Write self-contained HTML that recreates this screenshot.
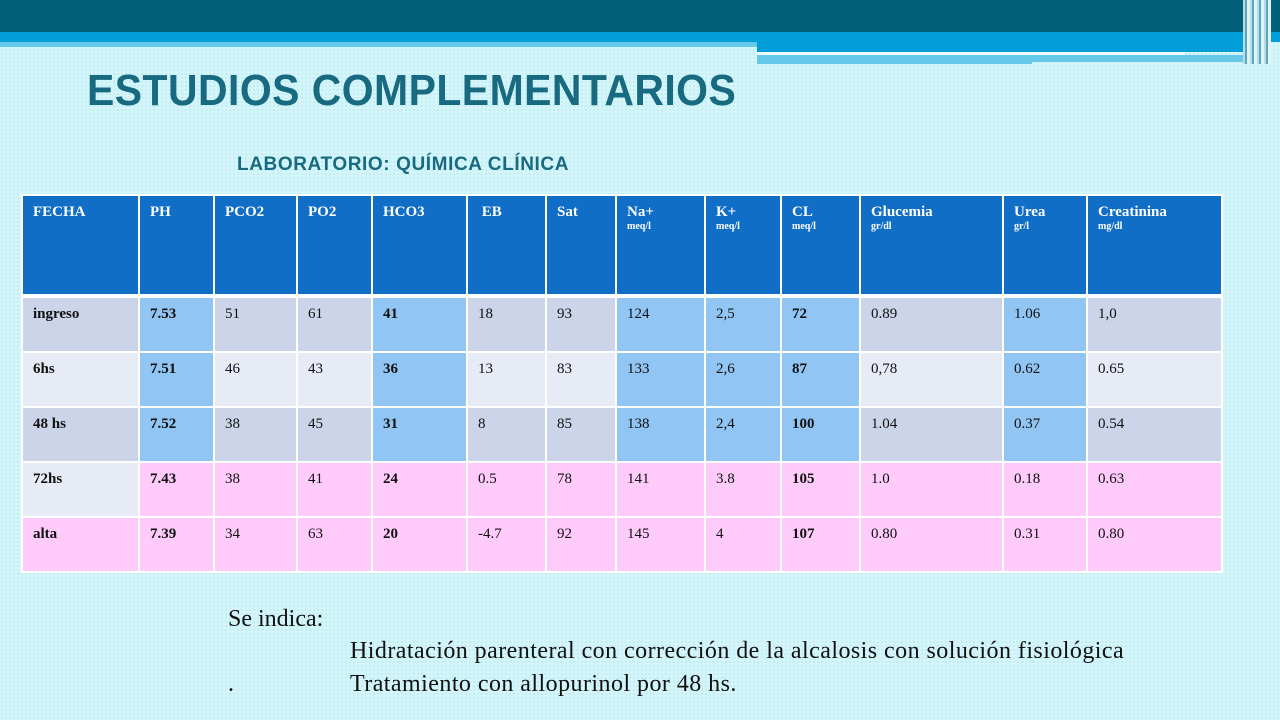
<!DOCTYPE html>
<html><head><meta charset="utf-8">
<style>
html,body{margin:0;padding:0}
body{width:1280px;height:720px;position:relative;overflow:hidden;background:#d3f6fb;
background-image:radial-gradient(#c2e9f0 0.8px,transparent 0.9px);background-size:4px 4px;font-family:"Liberation Serif",serif}
.abs{position:absolute}
h1{position:absolute;left:87px;top:66px;margin:0;font:bold 44px "Liberation Sans",sans-serif;color:#176a80;letter-spacing:0.5px;transform:scaleX(0.93);transform-origin:left}
h2{position:absolute;left:237px;top:154px;margin:0;font:bold 19px "Liberation Sans",sans-serif;color:#176a80;letter-spacing:0.6px}
table{position:absolute;left:21px;top:194px;border-collapse:collapse;table-layout:fixed}
td{border:2px solid #fff;vertical-align:top;padding:8px 0 0 10px;font-size:15px;color:#111;overflow:hidden;white-space:nowrap}
tr.h td{background:#106ec6;color:#fff;font-weight:bold;height:90px;padding-top:8px}
tr.h td small{display:block;font-size:10px;line-height:11px}
tr.h{border-bottom:4px solid #fff}
tr.r td{height:45px}
.g{background:#cbd4e8}.l{background:#e7ebf5}.b{background:#91c5f3}.p{background:#ffcbfb}
td.f{font-weight:bold}
.t{position:absolute;font-size:24px;color:#111;white-space:nowrap}
</style></head><body>
<div class="abs" style="left:0;top:0;width:1280px;height:32px;background:#03607a"></div>
<div class="abs" style="left:0;top:32px;width:1280px;height:10px;background:#009dd9"></div>
<div class="abs" style="left:0;top:42px;width:757px;height:5px;background:#67c9ea"></div>
<div class="abs" style="left:757px;top:42px;width:500px;height:10px;background:#009dd9"></div>
<div class="abs" style="left:757px;top:52px;width:428px;height:3px;background:#eafcff"></div>
<div class="abs" style="left:757px;top:55px;width:500px;height:7px;background:#67c9ea"></div>
<div class="abs" style="left:757px;top:62px;width:275px;height:2px;background:#67c9ea"></div>
<div class="abs" style="left:1243px;top:0;width:28px;height:64px;background:repeating-linear-gradient(90deg,#b8dbe6 0 2px,#5aa8c0 2px 4px,#e0f4f8 4px 7px)"></div>
<h1>ESTUDIOS COMPLEMENTARIOS</h1>
<h2>LABORATORIO: QUÍMICA CLÍNICA</h2>
<table>
<colgroup><col style="width:117px"><col style="width:75px"><col style="width:83px"><col style="width:75px"><col style="width:95px"><col style="width:79px"><col style="width:70px"><col style="width:89px"><col style="width:76px"><col style="width:79px"><col style="width:143px"><col style="width:84px"><col style="width:135px"></colgroup>
<tr class="h"><td>FECHA</td><td>PH</td><td>PCO2</td><td>PO2</td><td>HCO3</td><td>&nbsp;EB</td><td>Sat</td><td>Na+<small>meq/l</small></td><td>K+<small>meq/l</small></td><td>CL<small>meq/l</small></td><td>Glucemia<small>gr/dl</small></td><td>Urea<small>gr/l</small></td><td>Creatinina<small>mg/dl</small></td></tr>
<tr class="r"><td class="g f">ingreso</td><td class="b f">7.53</td><td class="g">51</td><td class="g">61</td><td class="b f">41</td><td class="g">18</td><td class="g">93</td><td class="b">124</td><td class="b">2,5</td><td class="b f">72</td><td class="g">0.89</td><td class="b">1.06</td><td class="g">1,0</td></tr>
<tr class="r"><td class="l f">6hs</td><td class="b f">7.51</td><td class="l">46</td><td class="l">43</td><td class="b f">36</td><td class="l">13</td><td class="l">83</td><td class="b">133</td><td class="b">2,6</td><td class="b f">87</td><td class="l">0,78</td><td class="b">0.62</td><td class="l">0.65</td></tr>
<tr class="r"><td class="g f">48 hs</td><td class="b f">7.52</td><td class="g">38</td><td class="g">45</td><td class="b f">31</td><td class="g">8</td><td class="g">85</td><td class="b">138</td><td class="b">2,4</td><td class="b f">100</td><td class="g">1.04</td><td class="b">0.37</td><td class="g">0.54</td></tr>
<tr class="r"><td class="l f">72hs</td><td class="p f">7.43</td><td class="p">38</td><td class="p">41</td><td class="p f">24</td><td class="p">0.5</td><td class="p">78</td><td class="p">141</td><td class="p">3.8</td><td class="p f">105</td><td class="p">1.0</td><td class="p">0.18</td><td class="p">0.63</td></tr>
<tr class="r"><td class="p f">alta</td><td class="p f">7.39</td><td class="p">34</td><td class="p">63</td><td class="p f">20</td><td class="p">-4.7</td><td class="p">92</td><td class="p">145</td><td class="p">4</td><td class="p f">107</td><td class="p">0.80</td><td class="p">0.31</td><td class="p">0.80</td></tr>
</table>
<div class="t" style="left:228px;top:606px">Se indica:</div>
<div class="t" style="left:350px;top:638px;letter-spacing:0.45px">Hidratación parenteral con corrección de la alcalosis con solución fisiológica</div>
<div class="t" style="left:228px;top:671px">.</div>
<div class="t" style="left:350px;top:671px;letter-spacing:0.45px">Tratamiento con allopurinol por 48 hs.</div>
</body></html>
